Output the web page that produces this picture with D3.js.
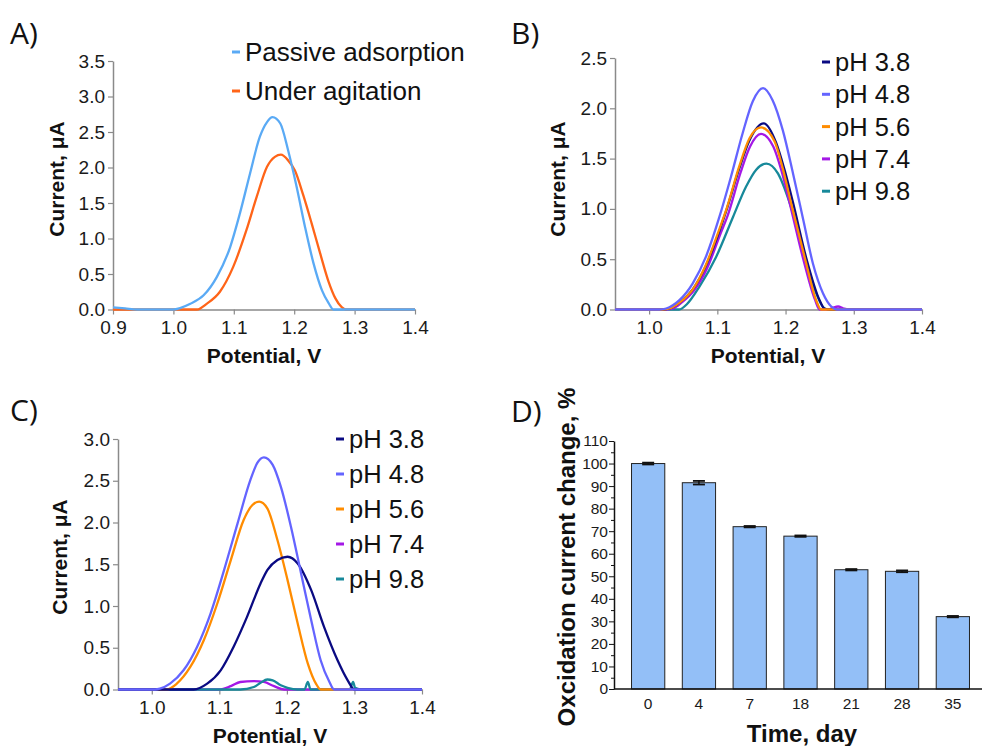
<!DOCTYPE html>
<html>
<head>
<meta charset="utf-8">
<script src="https://cdnjs.cloudflare.com/ajax/libs/d3/7.8.5/d3.min.js"></script>
<style>
  body { margin: 0; background: #fff; }
  text { font-family: "Liberation Sans", Arial, sans-serif; }
</style>
</head>
<body>
<script>
// ---- data ----

// A) passive adsorption vs agitation  [potential V, current uA]
var aPassive = [[0.90,0.03],[0.92,0.015],[0.94,0],[1.00,0],[1.011,0.02],[1.028,0.08],[1.05,0.20],[1.072,0.46],[1.094,0.88],[1.110,1.35],[1.127,1.92],[1.143,2.43],[1.155,2.64],[1.164,2.71],[1.177,2.62],[1.190,2.24],[1.204,1.73],[1.218,1.16],[1.232,0.65],[1.246,0.27],[1.257,0.09],[1.265,0],[1.40,0]];
var aAgitation = [[0.90,0],[1.039,0],[1.055,0.08],[1.077,0.25],[1.099,0.60],[1.121,1.12],[1.138,1.59],[1.155,2.01],[1.168,2.15],[1.178,2.18],[1.190,2.10],[1.201,1.96],[1.215,1.61],[1.229,1.21],[1.243,0.79],[1.257,0.39],[1.268,0.16],[1.279,0.03],[1.285,0],[1.40,0]];

// B) pH series
var bPH38 = [[0.95,0],[1.02,0],[1.03,0.01],[1.045,0.07],[1.064,0.20],[1.083,0.43],[1.103,0.78],[1.113,0.98],[1.132,1.40],[1.147,1.68],[1.168,1.85],[1.186,1.66],[1.198,1.40],[1.211,1.06],[1.230,0.52],[1.250,0.09],[1.257,0.01],[1.265,0],[1.40,0]];
var bPH48 = [[0.95,0],[1.015,0],[1.025,0.01],[1.044,0.09],[1.064,0.26],[1.083,0.52],[1.103,0.92],[1.120,1.32],[1.137,1.75],[1.152,2.07],[1.167,2.20],[1.181,2.08],[1.196,1.78],[1.211,1.35],[1.226,0.89],[1.240,0.46],[1.255,0.16],[1.267,0.03],[1.275,0],[1.40,0]];
var bPH56 = [[0.95,0],[1.02,0],[1.03,0.01],[1.045,0.07],[1.064,0.20],[1.083,0.44],[1.103,0.80],[1.113,0.99],[1.132,1.42],[1.147,1.70],[1.164,1.81],[1.184,1.67],[1.196,1.40],[1.208,1.06],[1.228,0.52],[1.245,0.09],[1.252,0],[1.40,0]];
var bPH74 = [[0.95,0],[1.025,0],[1.035,0.01],[1.048,0.07],[1.066,0.19],[1.085,0.41],[1.105,0.76],[1.115,0.93],[1.134,1.36],[1.148,1.62],[1.164,1.745],[1.182,1.62],[1.194,1.38],[1.206,1.06],[1.226,0.50],[1.243,0.10],[1.25,0],[1.262,0],[1.270,0.02],[1.277,0.03],[1.285,0.01],[1.292,0],[1.40,0]];
var bPH98 = [[0.95,0],[1.044,0],[1.055,0.05],[1.074,0.23],[1.098,0.52],[1.123,0.92],[1.142,1.22],[1.157,1.39],[1.172,1.45],[1.189,1.35],[1.206,1.06],[1.226,0.59],[1.245,0.16],[1.257,0.01],[1.262,0],[1.40,0]];

// C) pH series, second set
var cPH38 = [[0.95,0],[1.062,0],[1.082,0.07],[1.102,0.23],[1.121,0.51],[1.141,0.87],[1.161,1.27],[1.171,1.43],[1.186,1.55],[1.201,1.59],[1.216,1.51],[1.236,1.19],[1.255,0.75],[1.275,0.35],[1.290,0.11],[1.30,0],[1.40,0]];
var cPH48 = [[0.95,0],[1.005,0],[1.012,0.01],[1.027,0.07],[1.047,0.23],[1.067,0.51],[1.087,0.91],[1.107,1.43],[1.127,1.99],[1.146,2.51],[1.156,2.71],[1.166,2.78],[1.179,2.69],[1.191,2.43],[1.206,1.95],[1.221,1.39],[1.236,0.83],[1.250,0.35],[1.263,0.09],[1.27,0],[1.40,0]];
var cPH56 = [[0.95,0],[1.022,0],[1.037,0.07],[1.057,0.27],[1.077,0.59],[1.097,1.03],[1.117,1.55],[1.136,2.03],[1.149,2.21],[1.159,2.25],[1.171,2.17],[1.186,1.79],[1.201,1.31],[1.216,0.79],[1.231,0.31],[1.243,0.07],[1.25,0],[1.40,0]];
var cPH74 = [[0.95,0],[1.10,0],[1.117,0.04],[1.131,0.09],[1.151,0.10],[1.166,0.09],[1.181,0.04],[1.196,0],[1.40,0]];
var cPH98 = [[0.95,0],[1.131,0],[1.151,0.03],[1.161,0.08],[1.171,0.12],[1.179,0.11],[1.191,0.05],[1.201,0.02],[1.216,0],[1.226,0],[1.231,0.09],[1.235,0],[1.293,0],[1.298,0.09],[1.301,0.02],[1.309,0],[1.40,0]];

// D) stability over time
var dDays = ["0", "4", "7", "18", "21", "28", "35"];
var dCurrent = [100, 91.5, 72.0, 67.8, 52.9, 52.2, 32.1];
var dError = [0.4, 0.8, 0.3, 0.3, 0.3, 0.4, 0.3];

var pHLabels = ["pH 3.8", "pH 4.8", "pH 5.6", "pH 7.4", "pH 9.8"];
var pHColors = ["#0a0a82", "#6464ff", "#ff8c00", "#a418e6", "#17899a"];

var width = 982, height = 746;
var svg = d3.select("body").append("svg")
    .attr("width", width)
    .attr("height", height);

var axisGrey = "#8a8a8a";

function panelLetter(txt, x, y) {
    svg.append("text")
        .attr("x", x).attr("y", y)
        .style("font-family", "'Open Sans', sans-serif")
        .style("font-size", "30px")
        .attr("fill", "#111")
        .text(txt);
}

function yTitle(txt, x, y, size) {
    svg.append("text")
        .attr("transform", "translate(" + x + "," + y + ") rotate(-90)")
        .attr("text-anchor", "middle")
        .style("font-size", size + "px")
        .style("font-weight", "bold")
        .attr("fill", "#111")
        .text(txt);
}

function xTitle(txt, x, y, size) {
    svg.append("text")
        .attr("x", x).attr("y", y)
        .attr("text-anchor", "middle")
        .style("font-size", size + "px")
        .style("font-weight", "bold")
        .attr("fill", "#111")
        .text(txt);
}

// a voltammogram panel
function curvePanel(p) {
    var x = d3.scaleLinear().domain(p.xDomain).range([p.left, p.right]);
    var y = d3.scaleLinear().domain(p.yDomain).range([p.bottom, p.top]);

    var gx = svg.append("g")
        .attr("transform", "translate(0," + p.bottom + ")")
        .call(d3.axisBottom(x).tickValues(p.xTicks).tickFormat(d3.format(".1f"))
            .tickSize(5).tickSizeOuter(0).tickPadding(6));
    var gy = svg.append("g")
        .attr("transform", "translate(" + p.left + ",0)")
        .call(d3.axisLeft(y).tickValues(p.yTicks).tickFormat(d3.format(".1f"))
            .tickSize(5).tickSizeOuter(0).tickPadding(3));

    [gx, gy].forEach(function (g) {
        g.select(".domain").attr("stroke", axisGrey).attr("stroke-width", 1.5);
        g.selectAll(".tick line").attr("stroke", axisGrey).attr("stroke-width", 1.2);
        g.selectAll(".tick text").attr("fill", "#1a1a1a")
            .style("font-size", "19px")
            .style("font-family", "'Liberation Sans', Arial, sans-serif");
    });

    var line = d3.line()
        .x(function (d) { return x(d[0]); })
        .y(function (d) { return y(d[1]); })
        .curve(d3.curveMonotoneX);

    p.series.forEach(function (s) {
        svg.append("path")
            .datum(s.data)
            .attr("fill", "none")
            .attr("stroke", s.color)
            .attr("stroke-width", 2.3)
            .attr("stroke-linejoin", "round")
            .attr("d", line);
    });

    // legend
    p.legend.forEach(function (l, i) {
        var ly = p.legY + i * p.legStep;
        svg.append("line")
            .attr("x1", p.legX - 13).attr("x2", p.legX - 5)
            .attr("y1", ly).attr("y2", ly)
            .attr("stroke", l.color).attr("stroke-width", 3);
        svg.append("text")
            .attr("x", p.legX).attr("y", ly + 9)
            .style("font-size", p.legSize + "px")
            .attr("fill", "#111")
            .text(l.label);
    });
}

// ---- A ----
panelLetter("A)", 10, 44);
curvePanel({
    left: 113, right: 415, top: 61, bottom: 309.5,
    xDomain: [0.9, 1.4], yDomain: [0, 3.5],
    xTicks: [0.9, 1.0, 1.1, 1.2, 1.3, 1.4],
    yTicks: [0, 0.5, 1.0, 1.5, 2.0, 2.5, 3.0, 3.5],
    series: [
        { data: aAgitation, color: "#ff6418" },
        { data: aPassive, color: "#5aaaf5" }
    ],
    legend: [
        { label: "Passive adsorption", color: "#5aaaf5" },
        { label: "Under agitation", color: "#ff6418" }
    ],
    legX: 245, legY: 52, legStep: 39, legSize: 26
});
yTitle("Current, \u03bcA", 64, 179, 21);
xTitle("Potential, V", 264, 363, 21);

// ---- B ----
panelLetter("B)", 511, 44);
curvePanel({
    left: 615, right: 922, top: 58, bottom: 309.5,
    xDomain: [0.95, 1.4], yDomain: [0, 2.5],
    xTicks: [1.0, 1.1, 1.2, 1.3, 1.4],
    yTicks: [0, 0.5, 1.0, 1.5, 2.0, 2.5],
    series: [
        { data: bPH98, color: pHColors[4] },
        { data: bPH74, color: pHColors[3] },
        { data: bPH38, color: pHColors[0] },
        { data: bPH56, color: pHColors[2] },
        { data: bPH48, color: pHColors[1] }
    ],
    legend: pHLabels.map(function (l, i) { return { label: l, color: pHColors[i] }; }),
    legX: 835, legY: 62, legStep: 32.3, legSize: 25.5
});
yTitle("Current, \u03bcA", 565, 179, 21);
xTitle("Potential, V", 768, 363, 21);

// ---- C ----
panelLetter("C)", 10, 421);
curvePanel({
    left: 118, right: 422, top: 439, bottom: 689.5,
    xDomain: [0.95, 1.4], yDomain: [0, 3.0],
    xTicks: [1.0, 1.1, 1.2, 1.3, 1.4],
    yTicks: [0, 0.5, 1.0, 1.5, 2.0, 2.5, 3.0],
    series: [
        { data: cPH74, color: pHColors[3] },
        { data: cPH98, color: pHColors[4] },
        { data: cPH56, color: pHColors[2] },
        { data: cPH38, color: pHColors[0] },
        { data: cPH48, color: pHColors[1] }
    ],
    legend: pHLabels.map(function (l, i) { return { label: l, color: pHColors[i] }; }),
    legX: 349, legY: 439, legStep: 35, legSize: 25.5
});
yTitle("Current, \u03bcA", 67, 557, 21);
xTitle("Potential, V", 270, 743, 21);

// ---- D ----
panelLetter("D)", 511, 422);

var xD = d3.scaleBand().domain(dDays).range([614, 987]).padding(0.345);
var yD = d3.scaleLinear().domain([0, 110]).range([689, 441]);

svg.append("g")
    .selectAll("rect")
    .data(dCurrent)
    .enter()
    .append("rect")
    .attr("x", function (d, i) { return xD(dDays[i]); })
    .attr("y", function (d) { return yD(d); })
    .attr("width", xD.bandwidth())
    .attr("height", function (d) { return yD(0) - yD(d); })
    .attr("fill", "#93bff7")
    .attr("stroke", "#222")
    .attr("stroke-width", 1);

// error bars
var err = svg.append("g");
dCurrent.forEach(function (v, i) {
    var cx = xD(dDays[i]) + xD.bandwidth() / 2;
    err.append("line")
        .attr("x1", cx).attr("x2", cx)
        .attr("y1", yD(v + dError[i])).attr("y2", yD(v - dError[i]))
        .attr("stroke", "#111").attr("stroke-width", 1.5);
    [v + dError[i], v - dError[i]].forEach(function (e) {
        err.append("line")
            .attr("x1", cx - 6).attr("x2", cx + 6)
            .attr("y1", yD(e)).attr("y2", yD(e))
            .attr("stroke", "#111").attr("stroke-width", 1.8);
    });
});

// minor ticks on D's y axis
svg.append("g")
    .attr("transform", "translate(614,0)")
    .call(d3.axisLeft(yD).tickValues(d3.range(5, 110, 10)).tickSize(3).tickFormat(""))
    .call(function (g) { g.select(".domain").remove(); })
    .selectAll("line").attr("stroke", "#111");

var gyD = svg.append("g")
    .attr("transform", "translate(614,0)")
    .call(d3.axisLeft(yD).tickValues(d3.range(0, 111, 10)).tickSize(5).tickSizeOuter(0).tickPadding(1));
var gxD = svg.append("g")
    .attr("transform", "translate(0,689)")
    .call(d3.axisBottom(xD).tickSize(0).tickPadding(9));
gxD.select(".domain").attr("d", "M614,0H982");

[gxD, gyD].forEach(function (g) {
    g.select(".domain").attr("stroke", "#111").attr("stroke-width", 1.5);
    g.selectAll(".tick line").attr("stroke", "#111");
    g.selectAll(".tick text").attr("fill", "#1a1a1a")
        .style("font-size", "15.5px")
        .style("font-family", "'Liberation Sans', Arial, sans-serif");
});

yTitle("Oxcidation current change, %", 575, 557, 24);
xTitle("Time, day", 802, 742, 24);
</script>
</body>
</html>
